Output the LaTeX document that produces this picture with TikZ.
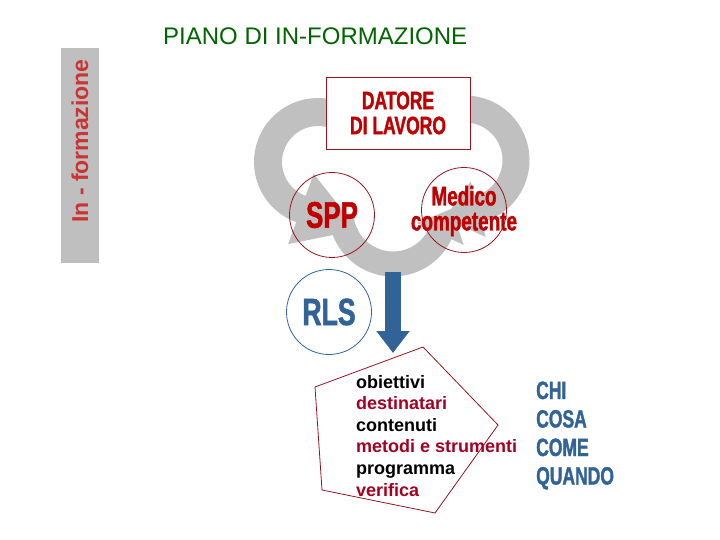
\documentclass[tikz,border=0pt]{standalone}
\usepackage{fontspec}
\setmainfont{Liberation Sans}
\newfontfamily\narrowbold{Liberation Sans}[FakeStretch=0.7,FakeBold=1.4]
\usetikzlibrary{arrows.meta}

\definecolor{bargray}{RGB}{191,191,191}
\definecolor{cycgray}{RGB}{192,192,192}
\definecolor{sidered}{RGB}{204,51,51}
\definecolor{titlegreen}{RGB}{0,100,0}
\definecolor{impred}{RGB}{192,0,0}
\definecolor{edgered}{RGB}{150,20,30}
\definecolor{listred}{RGB}{165,0,33}
\definecolor{rlsblue}{RGB}{49,99,150}

\begin{document}
\begin{tikzpicture}[x=1pt,y=-1pt,
    cycarrow/.style={draw=cycgray},
    ring/.style={circle,draw=edgered,line width=0.8pt,minimum size=85pt,inner sep=0pt},
    bigred/.style={text=impred,inner sep=0pt},
    item/.style={anchor=base west,inner sep=0pt,font=\fontsize{18}{18}\selectfont\bfseries},
    askblue/.style={anchor=base west,inner sep=0pt,text=rlsblue,font=\narrowbold\bfseries\fontsize{25}{25}\selectfont}]
  \useasboundingbox (0,0) rectangle (720,540);

  % side bar
  \fill[bargray] (61,48) rectangle (99,263);
  \node[rotate=90,inner sep=0pt,text=sidered,font=\fontsize{23}{23}\selectfont\bfseries] (side) at (80,141) {In - formazione};

  % title
  \node[anchor=base west,inner sep=0pt,text=titlegreen,font=\fontsize{24}{24}\selectfont] (title) at (163,45) {PIANO DI IN-FORMAZIONE};

  % cycle arrows
  \coordinate (lc) at (318,162);
  \coordinate (bc) at (393,212);
  \coordinate (rc) at (465,160);
  \draw[cycarrow,line width=28pt,-{Triangle[length=62pt,width=70pt]}] (lc) ++(-75:50) arc[start angle=-75,end angle=-250,radius=50] -- ++(20:62);
  \draw[cycarrow,line width=25pt,-{Triangle[length=28pt,width=50pt]}] (bc) ++(-185:52) arc[start angle=-185,end angle=-335,radius=52] -- ++(-65:28);
  \draw[cycarrow,line width=27pt,-{Triangle[length=35pt,width=55pt]}] (rc) ++(-85:51) arc[start angle=-85,end angle=75,radius=51] -- ++(165:35);

  % roles
  \node[draw=edgered,line width=0.8pt,fill=white,minimum width=144pt,minimum height=72pt,align=center,text=impred,font=\narrowbold\bfseries\fontsize{25}{25}\selectfont] (boss) at (398,113) {DATORE\\DI LAVORO};
  \node[ring] (spp) at (332,215) {};
  \node[bigred,font=\narrowbold\bfseries\fontsize{37}{37}\selectfont] (spplbl) at (spp) {SPP};
  \node[ring] (med) at (464,210) {};
  \node[bigred,align=center,font=\narrowbold\bfseries\fontsize{27}{25}\selectfont] (medlbl) at (464,211) {Medico\\competente};
  \node[ring,draw=rlsblue] (rls) at (329,312) {};
  \node[inner sep=0pt,text=rlsblue,font=\narrowbold\bfseries\fontsize{38}{38}\selectfont] (rlslbl) at (rls) {RLS};

  % down arrow
  \coordinate (flowtop) at (393,272);
  \coordinate (flowtip) at (393,353);
  \draw[line width=16pt,draw=rlsblue,-{Triangle[length=22pt,width=32pt]}] (flowtop) -- (flowtip);

  % pentagon
  \coordinate (p1) at (315,387);
  \coordinate (p2) at (423,347);
  \coordinate (p3) at (498,425);
  \coordinate (p4) at (435,513);
  \coordinate (p5) at (322,490);
  \draw[edgered,line width=0.8pt] (p1) -- (p2) -- (p3) -- (p4) -- (p5) -- cycle;

  % plan items
  \foreach \w/\c [count=\i from 0] in {obiettivi/black,destinatari/listred,contenuti/black,metodi e strumenti/listred,programma/black,verifica/listred} {
    \node[item,text=\c] (item\i) at (356,{388+21.6*\i}) {\w};
  }

  % questions
  \foreach \w [count=\i from 0] in {CHI,COSA,COME,QUANDO} {
    \node[askblue] (ask\i) at (536,{399+28.5*\i}) {\w};
  }
\end{tikzpicture}
\end{document}
